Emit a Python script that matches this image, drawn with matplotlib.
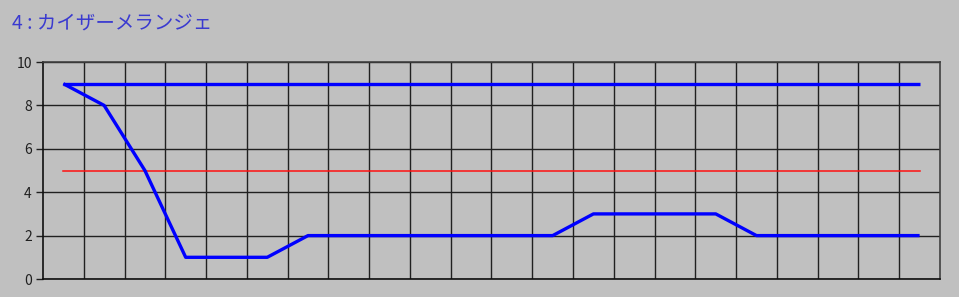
import numpy as np
import matplotlib
matplotlib.use("Agg")
import matplotlib.pyplot as plt

plt.rcParams['font.family'] = ['Noto Sans CJK JP', 'DejaVu Sans']

# データ
title = "4 : カイザーメランジェ"
n_cols = 22
upper = [9] * n_cols
actual = [9, 8, 5, 1, 1, 1, 2, 2, 2, 2, 2, 2, 2, 3, 3, 3, 3, 2, 2, 2, 2, 2]
middle = [5] * n_cols
yticks = [0, 2, 4, 6, 8, 10]

bg = "#c0c0c0"
fig = plt.figure(figsize=(9.59, 2.97), dpi=100, facecolor=bg)
ax = fig.add_axes([0.0448, 0.0606, 0.9354, 0.7306], facecolor=bg)

x = np.arange(n_cols) + 0.5

ax.plot(x, middle, color="#ff1010", linewidth=1.1, zorder=3)
ax.plot(x, upper, color="#0000ff", linewidth=2.4, zorder=4, solid_capstyle="butt")
ax.plot(x, actual, color="#0000ff", linewidth=2.4, zorder=4, solid_capstyle="butt")

ax.set_xlim(0, n_cols)
ax.set_ylim(0, 10)
ax.set_xticks(np.arange(1, n_cols))
ax.set_xticklabels([])
ax.tick_params(axis="x", length=0)
ax.set_yticks(yticks)
ax.set_yticklabels([str(v) for v in yticks], fontsize=10, color="#202020")
ax.tick_params(axis="y", length=5, width=1, color="#202020", pad=3)
ax.grid(True, color="#202020", linewidth=1)

for s in ["left", "bottom"]:
    ax.spines[s].set_color("#101010")
    ax.spines[s].set_linewidth(1.2)
for s in ["top", "right"]:
    ax.spines[s].set_color("#404040")
    ax.spines[s].set_linewidth(1.2)

fig.text(0.0125, 0.922, title, color="#3a3ad0", fontsize=14, va="center", ha="left")

fig.savefig("out.png", dpi=100, facecolor=bg)
